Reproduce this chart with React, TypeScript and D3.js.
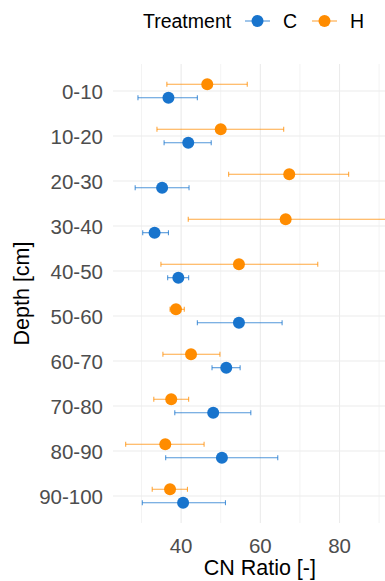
import * as d3 from 'd3';

const depths = ['0-10', '10-20', '20-30', '30-40', '40-50', '50-60', '60-70', '70-80', '80-90', '90-100'];

// C treatment
const cMean = [36.8, 41.8, 35.2, 33.3, 39.3, 54.6, 51.4, 48.1, 50.3, 40.5];
const cLow = [29.1, 35.7, 28.4, 30.3, 36.6, 44.1, 47.8, 38.4, 36.1, 30.2];
const cHigh = [44.1, 47.6, 42.0, 36.8, 41.9, 65.5, 54.9, 57.6, 64.4, 51.2];

// H treatment
const hMean = [46.6, 50.0, 67.3, 66.4, 54.6, 38.7, 42.5, 37.5, 36.0, 37.2];
const hLow = [36.4, 33.9, 52.0, 41.8, 34.9, 37.2, 35.4, 33.1, 26.0, 32.7];
const hHigh = [56.7, 65.9, 82.3, 93.0, 74.5, 40.8, 49.8, 41.9, 45.8, 41.6];

const majorTicks = [40, 60, 80];
const minorTicks = [30, 50, 70, 90];

const BLUE = '#1874CD';
const ORANGE = '#FF8C00';
const FONT = '"Liberation Sans", Arial, sans-serif';

const series = [
  { name: 'C', color: BLUE, mean: cMean, low: cLow, high: cHigh, dodge: 6.7 },
  { name: 'H', color: ORANGE, mean: hMean, low: hLow, high: hHigh, dodge: -6.7 },
];

export default function App() {
  const width = 385,
    height = 581;
  const panel = { left: 113, right: 393, top: 64, bottom: 523 };

  const x = d3.scaleLinear().domain([22.8, 93.5]).range([panel.left, panel.right]);
  const y = d3
    .scalePoint()
    .domain(depths)
    .range([panel.top, panel.bottom])
    .padding(0.6);

  return (
    <svg
      width={width}
      height={height}
      style={{ position: 'absolute', left: 0, top: 0, background: '#fff' }}
      fontFamily={FONT}
    >
      <defs>
        <clipPath id="panel">
          <rect x={panel.left} y={panel.top} width={panel.right - panel.left} height={panel.bottom - panel.top} />
        </clipPath>
      </defs>

      {/* grid */}
      {minorTicks.map(t => (
        <line key={'mi' + t} x1={x(t)} x2={x(t)} y1={panel.top} y2={panel.bottom} stroke="#EBEBEB" strokeWidth={0.6} />
      ))}
      {majorTicks.map(t => (
        <line key={'ma' + t} x1={x(t)} x2={x(t)} y1={panel.top} y2={panel.bottom} stroke="#EBEBEB" strokeWidth={1.1} />
      ))}
      {depths.map(d => (
        <line key={'gy' + d} x1={panel.left} x2={panel.right} y1={y(d)} y2={y(d)} stroke="#EBEBEB" strokeWidth={1.1} />
      ))}

      {/* error bars + points */}
      <g clipPath="url(#panel)">
        {series.map(s =>
          depths.map((d, i) => {
            const cy = (y(d) ?? 0) + s.dodge;
            const x1 = x(s.low[i]);
            const x2 = x(s.high[i]);
            return (
              <g key={s.name + d} stroke={s.color} strokeOpacity={0.75} strokeWidth={1.1}>
                <line x1={x1} x2={x2} y1={cy} y2={cy} />
                <line x1={x1} x2={x1} y1={cy - 2.5} y2={cy + 2.5} />
                <line x1={x2} x2={x2} y1={cy - 2.5} y2={cy + 2.5} />
              </g>
            );
          })
        )}
        {series.map(s =>
          depths.map((d, i) => (
            <circle key={'p' + s.name + d} cx={x(s.mean[i])} cy={(y(d) ?? 0) + s.dodge} r={6} fill={s.color} />
          ))
        )}
      </g>

      {/* y labels */}
      {depths.map(d => (
        <text
          key={'yl' + d}
          x={103}
          y={y(d)}
          textAnchor="end"
          dominantBaseline="central"
          fontSize={20.5}
          fill="#4D4D4D"
        >
          {d}
        </text>
      ))}

      {/* x labels */}
      {majorTicks.map(t => (
        <text key={'xl' + t} x={x(t)} y={545} textAnchor="middle" dominantBaseline="central" fontSize={20.5} fill="#4D4D4D">
          {t}
        </text>
      ))}

      <text x={x(40) + (x(80) - x(40)) / 2 - 0.5} y={575} textAnchor="middle" fontSize={21.5} fill="#000">
        CN Ratio [-]
      </text>
      <text
        transform={`translate(29, ${(panel.top + panel.bottom) / 2}) rotate(-90)`}
        textAnchor="middle"
        fontSize={21.5}
        fill="#000"
      >
        Depth [cm]
      </text>

      {/* legend */}
      <text x={143} y={21} dominantBaseline="central" fontSize={19.5} fill="#000">
        Treatment
      </text>
      {series.map((s, i) => {
        const kx = 245 + i * 67;
        return (
          <g key={'lg' + s.name}>
            <line x1={kx} x2={kx + 25} y1={21} y2={21} stroke={s.color} strokeWidth={1.1} strokeOpacity={0.75} />
            <circle cx={kx + 12.5} cy={21} r={6} fill={s.color} />
            <text x={kx + 38} y={21} dominantBaseline="central" fontSize={19.5} fill="#000">
              {s.name}
            </text>
          </g>
        );
      })}
    </svg>
  );
}
